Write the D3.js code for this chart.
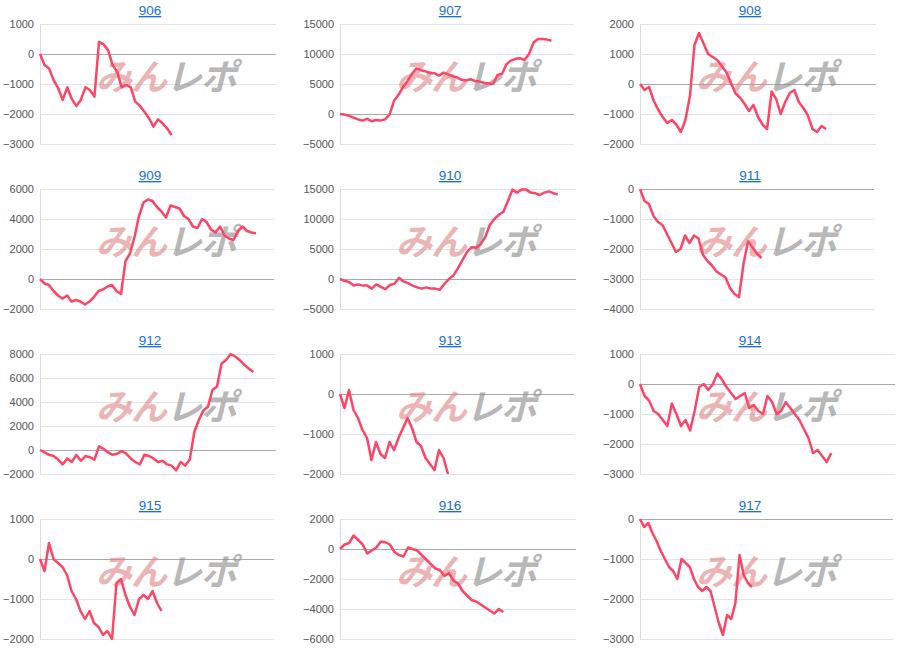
<!DOCTYPE html>
<html>
<head>
<meta charset="utf-8">
<script src="https://cdn.jsdelivr.net/npm/d3@7"></script>
<style>
  body { margin: 0; background: #fff; }
  svg { font-family: "Liberation Sans", Arial, sans-serif; }
</style>
</head>
<body>
<svg></svg>
<script>
const size = {w: 900, h: 660};
const panel = {w: 300, h: 165};

const titles = ['906', '907', '908', '909', '910', '911', '912', '913', '914', '915', '916', '917'];

const yTicks = [
    [1000, 0, -1000, -2000, -3000],
    [15000, 10000, 5000, 0, -5000],
    [2000, 1000, 0, -1000, -2000],
    [6000, 4000, 2000, 0, -2000],
    [15000, 10000, 5000, 0, -5000],
    [0, -1000, -2000, -3000, -4000],
    [8000, 6000, 4000, 2000, 0, -2000],
    [1000, 0, -1000, -2000],
    [1000, 0, -1000, -2000, -3000],
    [1000, 0, -1000, -2000],
    [2000, 0, -2000, -4000, -6000],
    [0, -1000, -2000, -3000]
];

// x slots per panel (category count of the hidden x axis)
const slots = [52, 52, 52, 52, 52, 52, 52, 52, 56, 52, 52, 61];
const rightEdge = [276, 274, 276, 274, 276, 274, 276, 274, 295, 274, 276, 293];

const s906 = [0, -370, -480, -870, -1140, -1530, -1110, -1500, -1730, -1530, -1110, -1200, -1420, 410, 320, 130, -370, -590, -1110, -1030, -1110, -1590, -1730, -1920, -2140, -2420, -2180, -2310, -2480, -2700];
const s907 = [0, -100, -300, -600, -900, -1100, -800, -1200, -1000, -1100, -900, -100, 2200, 3200, 4500, 5500, 6700, 7600, 7300, 7100, 6800, 6800, 6400, 6900, 6600, 6300, 6100, 5700, 5600, 5800, 5500, 5400, 5200, 5100, 5000, 6500, 6700, 8300, 8900, 9200, 9300, 9000, 10000, 11900, 12500, 12500, 12400, 12200];
const s908 = [0, -200, -100, -550, -850, -1100, -1300, -1200, -1350, -1600, -1200, -400, 1300, 1700, 1350, 1000, 900, 800, 600, 400, 50, -300, -450, -650, -900, -700, -1100, -1350, -1500, -250, -500, -1000, -600, -300, -200, -600, -800, -1050, -1500, -1600, -1400, -1500];
const s909 = [0, -300, -400, -800, -1100, -1300, -1100, -1500, -1400, -1500, -1700, -1500, -1200, -800, -700, -500, -400, -800, -1000, 1200, 1700, 2800, 4200, 5100, 5300, 5200, 4800, 4500, 4100, 4900, 4800, 4700, 4200, 4000, 3500, 3400, 4000, 3800, 3300, 3100, 3500, 2900, 2700, 2600, 3200, 3500, 3200, 3100, 3050];
const s910 = [0, -300, -500, -1100, -900, -1100, -1100, -1600, -900, -1300, -1700, -1000, -800, 200, -400, -700, -1100, -1400, -1600, -1400, -1600, -1600, -1800, -800, 0, 600, 1800, 3200, 4500, 5300, 5200, 5800, 7000, 9000, 10000, 10700, 11200, 13000, 14900, 14400, 14900, 14900, 14400, 14300, 14000, 14400, 14600, 14300, 14100];
const s911 = [0, -400, -500, -900, -1100, -1200, -1500, -1800, -2100, -2000, -1550, -1800, -1550, -1650, -2200, -2400, -2550, -2750, -2850, -2950, -3300, -3500, -3600, -2500, -1750, -1950, -2150, -2300];
const s912 = [0, -200, -400, -500, -800, -1200, -700, -1000, -400, -900, -500, -600, -800, 300, 100, -200, -400, -300, -100, -300, -700, -1000, -1200, -400, -500, -700, -1000, -900, -1200, -1300, -1700, -1000, -1300, -800, 1500, 2500, 3300, 3600, 5000, 5300, 7200, 7500, 8000, 7800, 7500, 7100, 6800, 6500];
const s913 = [0, -350, 100, -400, -600, -900, -1100, -1650, -1200, -1500, -1600, -1200, -1400, -1100, -850, -600, -850, -1200, -1300, -1600, -1750, -1900, -1400, -1600, -2000];
const s914 = [0, -400, -550, -900, -1000, -1200, -1400, -650, -1000, -1400, -1200, -1550, -900, -100, 0, -200, 0, 350, 150, -100, -300, -500, -400, -300, -800, -700, -900, -1000, -400, -600, -1000, -900, -600, -800, -1000, -1200, -1500, -1800, -2300, -2200, -2400, -2600, -2300];
const s915 = [0, -300, 400, 0, -100, -200, -400, -800, -1000, -1300, -1500, -1300, -1600, -1700, -1900, -1800, -2000, -600, -500, -900, -1200, -1400, -1000, -900, -1000, -800, -1100, -1300];
const s916 = [0, 300, 400, 900, 600, 300, -300, -100, 100, 500, 450, 300, -200, -400, -500, 100, 0, -100, -400, -700, -1000, -1300, -1400, -1800, -1600, -2100, -2300, -2800, -3100, -3400, -3500, -3700, -3900, -4100, -4300, -4000, -4200];
const s917 = [0, -200, -100, -350, -550, -800, -1000, -1200, -1300, -1500, -1000, -1100, -1200, -1500, -1700, -1800, -1700, -1800, -2200, -2600, -2900, -2400, -2500, -2100, -900, -1400, -1600, -1700];

const series = [s906, s907, s908, s909, s910, s911, s912, s913, s914, s915, s916, s917];

const svg = d3.select('svg')
    .attr('width', size.w)
    .attr('height', size.h);

const plotTop = 24, plotBottom = 144;
const fmt = d3.format('d');

titles.forEach(function(title, i) {
    const col = i % 3, row = Math.floor(i / 3);
    const g = svg.append('g')
        .attr('transform', `translate(${col * panel.w}, ${row * panel.h})`);

    g.append('text')
        .attr('x', 150).attr('y', 15)
        .attr('text-anchor', 'middle')
        .attr('font-size', 13.5)
        .attr('fill', '#1a6fd8')
        .attr('text-decoration', 'underline')
        .text(title);

    const ticks = yTicks[i];
    const y = d3.scaleLinear()
        .domain([d3.min(ticks), d3.max(ticks)])
        .range([plotBottom, plotTop]);

    // measure widest label to place the plot left edge
    const widest = ticks.map(fmt).reduce((a, b) => a.length >= b.length ? a : b);
    const probe = g.append('text').attr('font-size', 11).text(widest);
    const labelW = probe.node().getComputedTextLength();
    probe.remove();
    const left = Math.round(labelW + 9);

    const x = d3.scaleLinear()
        .domain([0, slots[i]])
        .range([left, rightEdge[i]]);

    const axis = g.append('g')
        .attr('transform', `translate(${left}, 0)`)
        .call(d3.axisLeft(y).tickValues(ticks).tickFormat(fmt)
            .tickSize(-(rightEdge[i] - left)).tickPadding(6));
    axis.select('.domain').attr('stroke', '#ddd');
    axis.selectAll('.tick line')
        .attr('stroke', d => d === 0 ? '#aaa' : '#e4e4e4');
    axis.selectAll('.tick text')
        .attr('font-size', 11)
        .attr('fill', '#555')
        .attr('font-family', '"Liberation Sans", Arial, sans-serif');

    // watermark
    const wm = g.append('text')
        .attr('x', 166).attr('y', 90)
        .attr('text-anchor', 'middle')
        .attr('font-size', 36)
        .attr('font-weight', 'bold')
        .attr('font-style', 'italic')
        .attr('font-family', '"Noto Sans CJK JP", sans-serif')
        .attr('letter-spacing', -1)
        .attr('opacity', 0.6);
    wm.append('tspan').attr('fill', '#e08585').text('みん');
    wm.append('tspan').attr('fill', '#8a8a8a').text('レポ');

    const line = d3.line()
        .x((d, j) => x(j))
        .y(d => y(d));

    g.append('path')
        .datum(series[i])
        .attr('fill', 'none')
        .attr('stroke', '#ff4466')
        .attr('stroke-width', 2.5)
        .attr('stroke-linejoin', 'round')
        .attr('d', line);
});
</script>
</body>
</html>
